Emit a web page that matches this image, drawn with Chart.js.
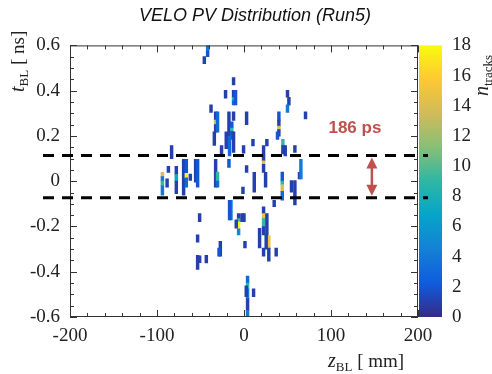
<!DOCTYPE html>
<html>
<head>
<meta charset="utf-8">
<script src="https://cdn.jsdelivr.net/npm/chart.js@4.4.1/dist/chart.umd.min.js"></script>
<style>
  html, body { margin: 0; padding: 0; background: #fff; }
  #wrap { width: 492px; height: 374px; position: relative; }
</style>
</head>
<body>
<div id="wrap"><canvas id="chart"></canvas></div>
<script>
(function () {
  "use strict";

  // ── Data: PV cells (bin centre z, t range, track count) ──
  const zCell = [
    -41.8, -41.8, -45.6, -12.0, -21.2, -12.0, -12.0, -12.0, -9.7, 50.0,
    51.6, 50.0, -37.9, -32.6, -32.6, -32.6, -30.4, -17.3, -12.0, -14.0,
    -14.0, -14.0, 3.0, 40.1, 40.1, 40.1, 40.1, 38.5, 44.7, 70.7,
    -34.1, -20.4, -16.6, -12.0, 10.3, 26.3, 22.5, 22.5, 22.5, 47.4,
    44.7, 58.5, -0.5, -83.2, -25.8,
    -17.3, 3.0, -55.6, -53.3, -32.6, -30.4, -30.4, -69.4, -66.3, -66.3,
    -66.3, -86.9, -77.8, -77.8, -77.8, -61.7, -93.8, -93.8, -93.8, -93.8,
    -88.4, 11.8, 24.8, 44.0, 44.0, 44.0, 44.0, 54.6, 58.5, 63.8,
    65.4, -1.2, 34.7,
    -15.0, -16.6, -6.2, -6.2, -6.2, -6.2, -8.9, -2.3, 0.0, -51.0,
    22.5, 22.5, 22.5, 22.5, 26.3, 17.9, 28.5, 28.5, 25.5, 22.5,
    37.0, 1.1, -27.2, -28.7, -53.3, -53.3, -51.0, -43.3, 4.1, 4.1,
    4.1, 4.1, 2.6, 11.0, 4.1
  ];
  const tFrom = [
    0.575, 0.550, 0.519, 0.425, 0.367, 0.370, 0.355, 0.337, 0.337, 0.371,
    0.336, 0.304, 0.304, 0.270, 0.250, 0.217, 0.217, 0.199, 0.269, 0.235,
    0.220, 0.185, 0.250, 0.270, 0.243, 0.228, 0.199, 0.185, 0.157, 0.275,
    0.158, 0.144, 0.112, 0.127, 0.156, 0.156, 0.090, 0.075, 0.039, 0.112,
    0.120, 0.127, 0.124, 0.100, 0.119,
    0.061, 0.039, -0.004, -0.026, -0.026, 0.000, -0.026, -0.062, 0.035, 0.015,
    -0.026, 0.039, 0.030, 0.000, -0.055, 0.003, 0.020, 0.000, -0.020, -0.062,
    -0.026, -0.048, -0.026, 0.000, -0.015, -0.045, -0.084, -0.048, -0.105, 0.010,
    0.010, -0.055, -0.113,
    -0.171, -0.171, -0.165, -0.180, -0.210, -0.237, -0.208, -0.179, -0.179, -0.179,
    -0.143, -0.165, -0.200, -0.237, -0.240, -0.295, -0.295, -0.353, -0.300, -0.331,
    -0.331, -0.295, -0.331, -0.331, -0.269, -0.390, -0.360, -0.361, -0.450, -0.475,
    -0.520, -0.571, -0.510, -0.510, -0.600
  ];
  const tTo = [
    0.600, 0.575, 0.551, 0.458, 0.401, 0.401, 0.370, 0.355, 0.401, 0.401,
    0.371, 0.337, 0.337, 0.307, 0.270, 0.250, 0.307, 0.307, 0.307, 0.262,
    0.235, 0.220, 0.307, 0.307, 0.270, 0.243, 0.228, 0.218, 0.185, 0.307,
    0.218, 0.218, 0.199, 0.218, 0.185, 0.185, 0.157, 0.090, 0.075, 0.157,
    0.157, 0.157, 0.157, 0.157, 0.157,
    0.097, 0.069, 0.097, 0.097, 0.097, 0.040, 0.000, 0.097, 0.097, 0.035,
    0.015, 0.066, 0.066, 0.030, 0.000, 0.032, 0.039, 0.020, 0.000, -0.020,
    0.010, 0.039, 0.039, 0.040, 0.000, -0.015, -0.045, 0.003, 0.003, 0.039,
    0.097, -0.026, -0.084,
    -0.084, -0.084, -0.143, -0.165, -0.180, -0.210, -0.171, -0.143, -0.143, -0.143,
    -0.113, -0.143, -0.165, -0.200, -0.143, -0.208, -0.240, -0.295, -0.237, -0.295,
    -0.295, -0.266, -0.266, -0.295, -0.237, -0.327, -0.330, -0.327, -0.419, -0.450,
    -0.475, -0.520, -0.462, -0.475, -0.571
  ];
  const nCell = [
    4, 2, 1, 1, 1, 1, 8, 3, 2, 1,
    1, 4, 1, 1, 14, 1, 3, 1, 1, 2,
    9, 2, 1, 2, 1, 14, 1, 2, 9, 1,
    1, 1, 3, 1, 1, 1, 1, 14, 1, 1,
    1, 1, 1, 1, 1,
    2, 1, 1, 2, 1, 9, 3, 1, 2, 18,
    3, 1, 1, 7, 1, 1, 14, 4, 9, 4,
    1, 1, 1, 2, 9, 14, 3, 1, 1, 1,
    4, 1, 1,
    4, 2, 1, 9, 18, 5, 1, 1, 1, 1,
    1, 15, 9, 1, 1, 1, 15, 1, 1, 1,
    1, 1, 1, 2, 1, 1, 1, 1, 3, 9,
    4, 1, 1, 1, 4
  ];

  // ── Axes / annotation values ──
  const zRange = [-200, 200];
  const tRange = [-0.6, 0.6];
  const nRange = [0, 18];
  const bandHigh = 0.113;   // ns
  const bandLow = -0.073;   // ns
  const bandLabel = "186 ps";
  const arrowZ = 147;       // mm

  // ── ROOT kBird palette ──
  const birdStops = [0, 0.125, 0.25, 0.375, 0.5, 0.625, 0.75, 0.875, 1];
  const birdR = [0.2082, 0.0592, 0.0780, 0.0232, 0.1802, 0.5301, 0.8186, 0.9956, 0.9764];
  const birdG = [0.1664, 0.3599, 0.5041, 0.6419, 0.7178, 0.7492, 0.7328, 0.7862, 0.9832];
  const birdB = [0.5293, 0.8684, 0.8385, 0.7914, 0.6425, 0.4662, 0.3499, 0.1968, 0.0539];

  function birdColor(f) {
    f = Math.max(0, Math.min(1, f));
    var i = 0;
    while (i < birdStops.length - 2 && f > birdStops[i + 1]) i++;
    var k = (f - birdStops[i]) / (birdStops[i + 1] - birdStops[i]);
    var c = function (arr) { return Math.round(255 * (arr[i] + k * (arr[i + 1] - arr[i]))); };
    return "rgb(" + c(birdR) + "," + c(birdG) + "," + c(birdB) + ")";
  }

  const SERIF = "'Liberation Serif', 'DejaVu Serif', serif";
  const SANS = "'Liberation Sans', Arial, sans-serif";
  const INK = "#222";

  // draws runs of text [{t, font, dy}] starting at (0,0) in current transform
  function richText(ctx, parts) {
    var x = 0;
    parts.forEach(function (p) {
      ctx.font = p.font;
      ctx.fillText(p.t, x, p.dy || 0);
      x += ctx.measureText(p.t).width;
    });
  }

  const decorations = {
    id: "decorations",
    afterDatasetsDraw: function (chart) {
      const ctx = chart.ctx;
      const a = chart.chartArea;
      const xs = chart.scales.x, ys = chart.scales.y;
      ctx.save();

      // colour bar
      var grad = ctx.createLinearGradient(0, a.bottom, 0, a.top);
      birdStops.forEach(function (s) { grad.addColorStop(s, birdColor(s)); });
      ctx.fillStyle = grad;
      ctx.fillRect(a.right + 1, a.top, 23, a.bottom - a.top);

      // frame + ticks
      ctx.strokeStyle = "#333";
      ctx.lineWidth = 1;
      ctx.strokeRect(a.left + 0.5, a.top + 0.5, a.width - 1, a.height - 1);
      ctx.beginPath();
      for (var v = zRange[0]; v <= zRange[1]; v += 20) {
        var px = Math.round(xs.getPixelForValue(v)) + 0.5;
        var len = v % 100 === 0 ? 7 : 4;
        ctx.moveTo(px, a.bottom); ctx.lineTo(px, a.bottom - len);
        ctx.moveTo(px, a.top); ctx.lineTo(px, a.top + len);
      }
      for (var i = -12; i <= 12; i++) {
        var py = Math.round(ys.getPixelForValue(i * 0.05)) + 0.5;
        var l2 = i % 4 === 0 ? 7 : 4;
        ctx.moveTo(a.left, py); ctx.lineTo(a.left + l2, py);
        ctx.moveTo(a.right, py); ctx.lineTo(a.right - l2, py);
      }
      ctx.stroke();

      // dashed band lines
      ctx.strokeStyle = "#000";
      ctx.lineWidth = 3;
      ctx.setLineDash([11, 8]);
      [bandHigh, bandLow].forEach(function (t) {
        var y = ys.getPixelForValue(t);
        ctx.beginPath();
        ctx.moveTo(43, y); ctx.lineTo(428, y);
        ctx.stroke();
      });
      ctx.setLineDash([]);

      // double arrow
      var ax = xs.getPixelForValue(arrowZ);
      var y1 = ys.getPixelForValue(bandHigh) + 2, y2 = ys.getPixelForValue(bandLow) - 2;
      var red = "#c0504d";
      ctx.strokeStyle = red; ctx.fillStyle = red; ctx.lineWidth = 2.5;
      ctx.beginPath(); ctx.moveTo(ax, y1 + 9); ctx.lineTo(ax, y2 - 9); ctx.stroke();
      ctx.beginPath(); ctx.moveTo(ax, y1); ctx.lineTo(ax - 5.5, y1 + 11); ctx.lineTo(ax + 5.5, y1 + 11); ctx.closePath(); ctx.fill();
      ctx.beginPath(); ctx.moveTo(ax, y2); ctx.lineTo(ax - 5.5, y2 - 11); ctx.lineTo(ax + 5.5, y2 - 11); ctx.closePath(); ctx.fill();
      ctx.font = "bold 17px " + SANS;
      ctx.textAlign = "center"; ctx.textBaseline = "alphabetic";
      ctx.fillText(bandLabel, ax - 17, 133);

      // title
      ctx.fillStyle = "#111";
      ctx.font = "italic 18px " + SANS;
      ctx.fillText("VELO PV Distribution (Run5)", 255, 21);

      // axis titles
      ctx.fillStyle = INK;
      ctx.textAlign = "left";
      ctx.save();
      ctx.translate(328, 367);
      richText(ctx, [
        { t: "z", font: "italic 20px " + SERIF },
        { t: "BL", font: "13px " + SERIF, dy: 4 },
        { t: " [ mm]", font: "19px " + SERIF }
      ]);
      ctx.restore();

      ctx.save();
      ctx.translate(24, 92);
      ctx.rotate(-Math.PI / 2);
      richText(ctx, [
        { t: "t", font: "italic 20px " + SERIF },
        { t: "BL", font: "13px " + SERIF, dy: 4 },
        { t: " [ ns]", font: "19px " + SERIF }
      ]);
      ctx.restore();

      ctx.save();
      ctx.translate(488, 96);
      ctx.rotate(-Math.PI / 2);
      richText(ctx, [
        { t: "n", font: "italic 20px " + SERIF },
        { t: "tracks", font: "13px " + SERIF, dy: 4 }
      ]);
      ctx.restore();

      ctx.restore();
    }
  };

  const cells = zCell.map(function (z, i) { return { x: z, y: [tFrom[i], tTo[i]] }; });
  const cellColors = nCell.map(function (n) { return birdColor(n / nRange[1]); });

  const tickFont = { family: SERIF, size: 19 };

  new Chart(document.getElementById("chart"), {
    type: "bar",
    data: {
      datasets: [{
        data: cells,
        backgroundColor: cellColors,
        borderWidth: 0,
        barThickness: 2.8,
        yAxisID: "y",
      }],
    },
    options: {
      responsive: true,
      maintainAspectRatio: false,
      animation: false,
      layout: { padding: { top: 41, left: 0, right: 0, bottom: 0 } },
      plugins: {
        legend: { display: false },
        tooltip: { enabled: false },
      },
      scales: {
        x: {
          type: "linear",
          min: zRange[0], max: zRange[1],
          offset: false,
          grid: { display: false, drawTicks: false },
          border: { display: false },
          ticks: { stepSize: 100, padding: 8, color: INK, font: tickFont, maxRotation: 0 },
          afterFit: function (s) { s.height = 57; },
        },
        y: {
          position: "left",
          min: tRange[0], max: tRange[1],
          grid: { display: false, drawTicks: false },
          border: { display: false },
          ticks: {
            stepSize: 0.2, padding: 10, color: INK, font: tickFont,
            callback: function (v) { return Math.abs(v) < 1e-9 ? "0" : Number(v).toFixed(1); },
          },
          afterFit: function (s) { s.width = 70; },
        },
        y2: {
          position: "right",
          min: nRange[0], max: nRange[1],
          grid: { display: false, drawTicks: false },
          border: { display: false },
          ticks: { stepSize: 2, padding: 34, color: INK, font: tickFont },
          afterFit: function (s) { s.width = 74; },
        },
      },
    },
    plugins: [decorations],
  });
})();
</script>
</body>
</html>
